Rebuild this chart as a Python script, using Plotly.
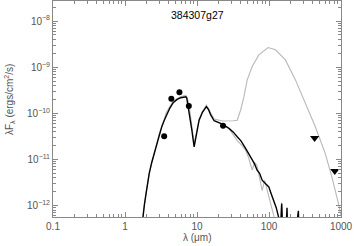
import plotly.graph_objects as go

# Photometry (filled circles)
phot_wave = [3.5, 4.4, 5.7, 7.7, 23.0]
phot_flux = [3.2e-11, 2.07e-10, 2.86e-10, 1.44e-10, 5.4e-11]

# Upper limits (down triangles)
ul_wave = [430, 820]
ul_flux = [2.9e-11, 5.6e-12]

# Black model SED
blk_wave = [1.70, 1.76, 1.86, 1.96, 2.17, 2.35, 2.55, 2.75, 2.99, 3.25, 3.51, 3.70, 4.2, 4.67, 5.3, 5.97, 6.5, 7.0,
            7.2, 7.36, 7.78, 8.1, 8.48, 9.12, 9.8, 10.7, 11.9, 13.5, 14.5, 15.5, 17.3, 20.0, 22.5, 27.8, 32.0, 36.2,
            41.0, 47.3, 52.0, 58.4, 63.0, 68.4, 74.0, 80.3, 88.0, 99.4, 106, 116, 126, 136, 145, 150, 153, 156,
            170, 178, 182, 200, 230, 256, 262]
blk_flux = [3.0e-13, 5.5e-13, 1.05e-12, 1.82e-12, 5.0e-12, 8.6e-12, 1.35e-11, 2.3e-11, 3.67e-11, 5.2e-11, 7.1e-11,
            8.6e-11, 1.3e-10, 1.7e-10, 2.0e-10, 2.18e-10, 2.26e-10, 2.28e-10, 2.15e-10, 1.75e-10, 1.18e-10,
            7.5e-11, 4.34e-11, 1.88e-11, 3.6e-11, 7.1e-11, 1.05e-10, 1.39e-10, 1.2e-10, 9.2e-11, 6.9e-11, 6.2e-11,
            5.85e-11, 4.72e-11, 3.9e-11, 3.1e-11, 2.5e-11, 1.73e-11, 1.35e-11, 9.7e-12, 8.0e-12, 5.85e-12,
            5.0e-12, 3.55e-12, 3.0e-12, 2.54e-12, 1.9e-12, 1.30e-12, 9.0e-13, 5.6e-13, 3.0e-13, 1.1e-12,
            2.0e-13, 2.0e-13, 2.0e-13, 9.0e-13, 2.0e-13, 2.0e-13, 2.0e-13, 7.7e-13, 2.0e-13]

# Grey model with cold envelope (far-IR bump)
gra_wave = [1.70, 1.76, 1.96, 2.17, 2.55, 2.99, 3.51, 3.70, 4.67, 5.97, 7.0, 7.36, 7.78, 8.48, 9.12,
            10.7, 11.9, 13.5, 15.5, 17.3, 22.5, 27.8, 32.0, 36.2, 40.4, 44.9, 49.8, 58.4, 72.3, 97.2,
            123, 169, 233, 320, 440, 604, 746, 923, 1000]
gra_flux = [3.0e-13, 5.5e-13, 1.82e-12, 5.0e-12, 1.35e-11, 3.67e-11, 7.1e-11, 1.0e-10, 1.85e-10, 2.3e-10, 2.45e-10,
            2.1e-10, 1.5e-10, 6.0e-11, 2.2e-11, 7.5e-11, 1.1e-10, 1.5e-10, 1.0e-10, 7.5e-11, 6.8e-11,
            6.8e-11, 6.9e-11, 7.1e-11, 1.18e-10, 2.3e-10, 5.3e-10, 1.03e-09, 1.85e-09, 2.67e-09,
            2.38e-09, 1.44e-09, 5.3e-10, 1.65e-10, 5.1e-11, 1.35e-11, 4.2e-12, 1.1e-12, 6.0e-13]

# Grey model without far-IR bump (mid/far-IR decline)
grb_wave = [27.8, 35.9, 41.0, 47.3, 52.0, 58.4, 63.0, 67.8, 74.0, 80.3, 87.0, 99.4, 113, 140, 150, 153, 160]
grb_flux = [4.72e-11, 2.6e-11, 2.1e-11, 1.58e-11, 1.1e-11, 5.9e-12, 8.5e-12, 7.6e-12, 4.0e-12, 2.1e-12, 3.5e-12,
            1.45e-12, 6.3e-13, 2.0e-13, 1.17e-12, 2.0e-13, 2.0e-13]

x_tickvals = [0.1, 1, 10, 100, 1000]
x_ticktext = ["0.1", "1", "10", "100", "1000"]
y_tickvals = [1e-12, 1e-11, 1e-10, 1e-9, 1e-8]
y_ticktext = ["10<sup>−12</sup>", "10<sup>−11</sup>", "10<sup>−10</sup>", "10<sup>−9</sup>", "10<sup>−8</sup>"]

fig = go.Figure()
fig.add_trace(go.Scatter(x=gra_wave, y=gra_flux, mode="lines",
                         line=dict(color="#b8b8b8", width=1.1), hoverinfo="skip"))
fig.add_trace(go.Scatter(x=grb_wave, y=grb_flux, mode="lines",
                         line=dict(color="#b8b8b8", width=1.1), hoverinfo="skip"))
fig.add_trace(go.Scatter(x=blk_wave, y=blk_flux, mode="lines",
                         line=dict(color="black", width=1.4), hoverinfo="skip"))
fig.add_trace(go.Scatter(x=phot_wave, y=phot_flux, mode="markers",
                         marker=dict(color="black", size=6, symbol="circle")))
fig.add_trace(go.Scatter(x=ul_wave, y=ul_flux, mode="markers",
                         marker=dict(color="black", size=8, symbol="triangle-down")))

axis_common = dict(showline=True, linecolor="#888888", linewidth=1, mirror="allticks",
                   ticks="inside", tickcolor="#888888", showgrid=False, zeroline=False,
                   automargin=False,
                   tickfont=dict(family="Liberation Sans", size=10, color="#555555"))

fig.update_xaxes(type="log", range=[-1, 3], tickvals=x_tickvals, ticktext=x_ticktext,
                 ticklen=5, minor=dict(ticks="inside", ticklen=3, tickcolor="#888888",
                                       tickvals=[m * d for d in [0.1, 1, 10, 100] for m in range(2, 10)]),
                 **axis_common)
fig.update_yaxes(type="log", range=[-12.248, -7.565], tickvals=y_tickvals, ticktext=y_ticktext,
                 ticklen=5, minor=dict(ticks="inside", ticklen=3, tickcolor="#888888",
                                       tickvals=[m * 10.0 ** e for e in range(-13, -7) for m in range(2, 10)]),
                 **axis_common)

fig.add_annotation(text="384307g27", xref="paper", yref="paper", x=0.5, y=(217 - 15) / 216,
                   showarrow=False, xanchor="center", yanchor="middle",
                   font=dict(family="Liberation Sans", size=10.5, color="black"))
fig.add_annotation(text="λ (μm)", xref="paper", yref="paper", x=0.5, y=(217 - 237) / 216,
                   showarrow=False, xanchor="center", yanchor="middle",
                   font=dict(family="Liberation Sans", size=10, color="#555555"))
fig.add_annotation(text="λF<sub>λ</sub> (ergs/cm<sup>2</sup>/s)", xref="paper", yref="paper",
                   x=(9 - 53) / 288, y=(217 - 100) / 216, textangle=-90,
                   showarrow=False, xanchor="center", yanchor="middle",
                   font=dict(family="Liberation Sans", size=10, color="#555555"))

fig.update_layout(width=354, height=246, margin=dict(l=53, r=13, t=1, b=29),
                  paper_bgcolor="white", plot_bgcolor="white", showlegend=False)

fig.write_html("out.html", config={"displayModeBar": False},
               post_script="document.body.style.margin='0px';document.body.style.padding='0px';")
